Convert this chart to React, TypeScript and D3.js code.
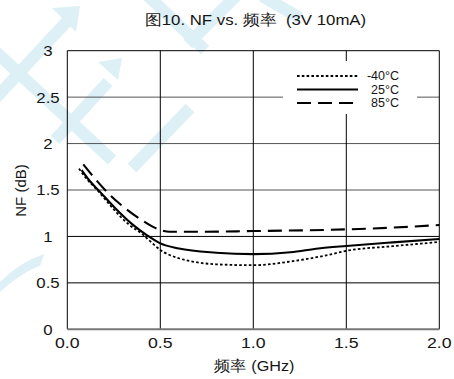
import React from "react";
import * as d3 from "d3";

// NF (dB) versus frequency (GHz) at three temperatures
const seriesNames = ["-40°C", "25°C", "85°C"];
const freqCold = [0.063, 0.1, 0.17, 0.25, 0.33, 0.4, 0.45, 0.5, 0.6, 0.7, 0.8, 1.0, 1.2, 1.4, 1.5, 1.75, 2.0];
const nfCold = [1.73, 1.63, 1.48, 1.29, 1.13, 1.03, 0.94, 0.855, 0.765, 0.72, 0.70, 0.69, 0.73, 0.80, 0.845, 0.895, 0.94];
const freqRoom = [0.077, 0.12, 0.176, 0.25, 0.35, 0.427, 0.5, 0.6, 0.8, 1.0, 1.2, 1.35, 1.5, 1.75, 2.0];
const nfRoom = [1.715, 1.6, 1.48, 1.32, 1.13, 1.015, 0.925, 0.87, 0.825, 0.81, 0.83, 0.87, 0.897, 0.936, 0.972];
const freqHot = [0.086, 0.15, 0.23, 0.32, 0.4, 0.5, 0.55, 0.7, 1.0, 1.5, 1.75, 2.0];
const nfHot = [1.776, 1.62, 1.445, 1.29, 1.177, 1.07, 1.05, 1.05, 1.058, 1.076, 1.095, 1.123];

const xTicks = [0, 0.5, 1.0, 1.5, 2.0];
const xTickLabels = ["0.0", "0.5", "1.0", "1.5", "2.0"];
const yTicks = [0, 0.5, 1, 1.5, 2, 2.5, 3];
const yTickLabels = ["0", "0.5", "1", "1.5", "2", "2.5", "3"];

const titleText = "图10. NF vs. 频率  (3V 10mA)";
const xTitle = "频率 (GHz)";
const yTitle = "NF (dB)";

const W = 454;
const H = 379;
const plot = { left: 67.3, right: 439.3, top: 50.7, bottom: 329.3 };
const FONT = "'Liberation Sans', Arial, sans-serif";
const MARK = "#dcf0f6";

const styles = [
  { dash: "2.6,2.2", width: 1.8 },
  { dash: null, width: 2.1 },
  { dash: "14,7", width: 2.1 },
];

// light background mark bands
const markBands: [number, number, number, number][] = [
  [-6, 100, 70, 18],
  [-4, 52, 112, 160],
  [55, 140, 108, 82],
  [190, 108, 132, 168],
  [148, -4, 205, 50],
  [236, -4, 188, 44],
  [262, -4, 300, 18],
];
const markHeads: string[] = [
  "M52,8 L80,6 L76,32 Z",
  "M98,62 L122,58 L118,80 Z",
];

function Stretched({ x, y, sx, anchor, size, children }: any) {
  return (
    <text
      transform={`translate(${x},${y}) scale(${sx},1)`}
      textAnchor={anchor}
      fontSize={size}
      fontFamily={FONT}
      fill="#151515"
      style={{ whiteSpace: "pre" }}
    >
      {children}
    </text>
  );
}

export default function App() {
  const x = d3.scaleLinear().domain([0, 2]).range([plot.left, plot.right]);
  const y = d3.scaleLinear().domain([0, 3]).range([plot.bottom, plot.top]);
  const line = d3
    .line<[number, number]>()
    .x((d) => x(d[0]))
    .y((d) => y(d[1]))
    .curve(d3.curveMonotoneX);

  const series = [
    d3.zip(freqCold, nfCold) as [number, number][],
    d3.zip(freqRoom, nfRoom) as [number, number][],
    d3.zip(freqHot, nfHot) as [number, number][],
  ];

  const legend = { x0: 283, x1: 417, y0: 61, y1: 114, lx0: 297, lx1: 358, tx: 399 };
  const legendRows = [76, 89.5, 103];

  return (
    <svg width={W} height={H} style={{ position: "absolute", left: 0, top: 0 }}>
      <rect width={W} height={H} fill="#fff" />
      <g stroke={MARK} strokeWidth={12} fill="none" strokeLinecap="butt">
        {markBands.map((b, i) => (
          <line key={i} x1={b[0]} y1={b[1]} x2={b[2]} y2={b[3]} />
        ))}
        <path d="M0,282 Q20,262 44,254 L40,266 Q22,272 0,292 Z" fill={MARK} stroke="none" />
      </g>
      {markHeads.map((d, i) => (
        <path key={i} d={d} fill={MARK} />
      ))}

      {/* grid */}
      {yTicks.slice(1).map((t) => (
        <line
          key={"h" + t}
          x1={plot.left}
          x2={plot.right}
          y1={y(t)}
          y2={y(t)}
          stroke={t >= 1.5 && t < 3 ? "#555" : "#000"}
          strokeWidth={1}
        />
      ))}
      {xTicks.map((t) => (
        <line key={"v" + t} x1={x(t)} x2={x(t)} y1={plot.top} y2={plot.bottom} stroke="#000" strokeWidth={1} />
      ))}
      <line x1={plot.left} x2={plot.right} y1={plot.bottom} y2={plot.bottom} stroke="#777" strokeWidth={2} />

      {/* legend background */}
      <rect x={legend.x0} y={legend.y0} width={legend.x1 - legend.x0} height={legend.y1 - legend.y0} fill="#fff" />

      {series.map((s, i) => (
        <path
          key={i}
          d={line(s) || ""}
          fill="none"
          stroke="#000"
          strokeWidth={styles[i].width}
          strokeDasharray={styles[i].dash || undefined}
        />
      ))}

      {seriesNames.map((n, i) => (
        <g key={n}>
          <line
            x1={legend.lx0}
            x2={legend.lx1}
            y1={legendRows[i]}
            y2={legendRows[i]}
            stroke="#000"
            strokeWidth={styles[i].width}
            strokeDasharray={styles[i].dash || undefined}
          />
          <text x={legend.tx} y={legendRows[i] + 4.3} textAnchor="end" fontSize={12.5} fontFamily={FONT} fill="#151515">
            {n}
          </text>
        </g>
      ))}

      {/* tick labels */}
      {yTicks.map((t, i) => (
        <Stretched key={"yl" + t} x={48} y={y(t) + 5.4} sx={1.12} anchor="middle" size={15}>
          {yTickLabels[i]}
        </Stretched>
      ))}
      {xTicks.map((t, i) => (
        <Stretched key={"xl" + t} x={x(t)} y={348} sx={1.18} anchor="middle" size={15}>
          {xTickLabels[i]}
        </Stretched>
      ))}

      {/* titles */}
      <Stretched x={255.5} y={25} sx={1.12} anchor="middle" size={15}>
        {titleText}
      </Stretched>
      <Stretched x={254} y={371} sx={1.08} anchor="middle" size={15}>
        {xTitle}
      </Stretched>
      <text
        transform={`translate(26,190.5) rotate(-90)`}
        textAnchor="middle"
        fontSize={15}
        fontFamily={FONT}
        fill="#151515"
      >
        {yTitle}
      </text>
    </svg>
  );
}
